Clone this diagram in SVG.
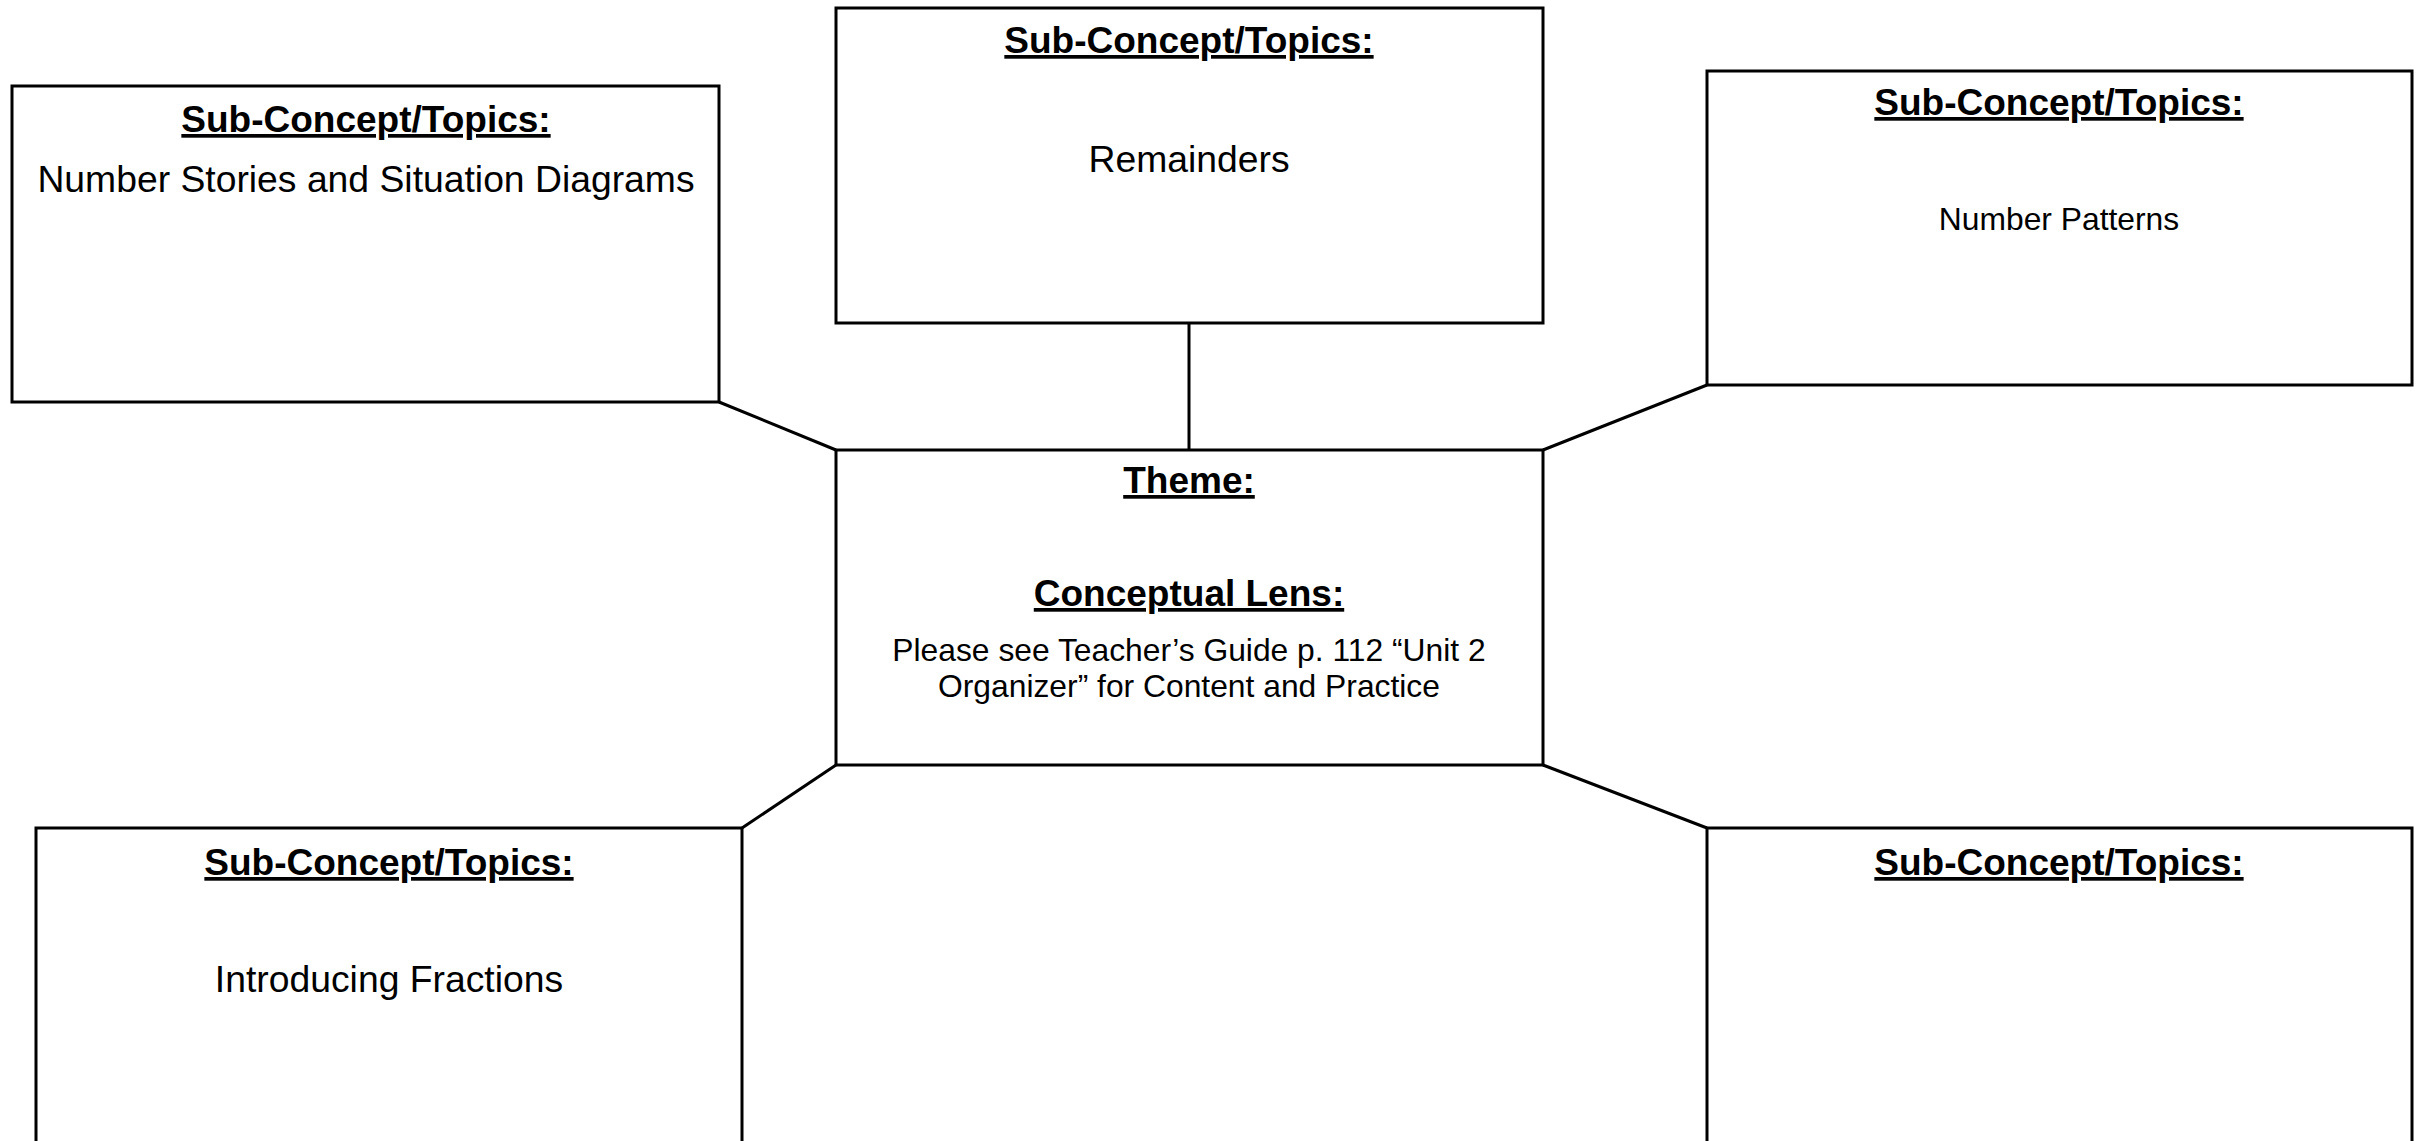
<svg xmlns="http://www.w3.org/2000/svg" width="2424" height="1141" viewBox="0 0 2424 1141">
<style>
.box{fill:#fff;stroke:#000;stroke-width:3}
.con{stroke:#000;stroke-width:3;fill:none}
.hd{font-family:"Liberation Sans",Arial,sans-serif;font-weight:bold;font-size:37px;text-anchor:middle;text-decoration:underline;fill:#000}
.tx{font-family:"Liberation Sans",Arial,sans-serif;font-size:37.3px;text-anchor:middle;fill:#000}
.sm{font-family:"Liberation Sans",Arial,sans-serif;font-size:31.8px;text-anchor:middle;fill:#000}
</style>
<rect width="2424" height="1141" fill="#fff"/>
<g id="connectors">
<line class="con" x1="719" y1="402" x2="836" y2="450"/>
<line class="con" x1="1189" y1="323" x2="1189" y2="450"/>
<line class="con" x1="1707" y1="385" x2="1543" y2="450"/>
<line class="con" x1="836" y1="765" x2="742" y2="828"/>
<line class="con" x1="1543" y1="765" x2="1707" y2="828"/>
</g>
<g id="node-top-left">
<rect class="box" x="12" y="86" width="707" height="316"/>
<text class="hd" x="366" y="132">Sub-Concept/Topics:</text>
<text class="tx" x="366" y="192">Number Stories and Situation Diagrams</text>
</g>
<g id="node-top-center">
<rect class="box" x="836" y="8" width="707" height="315"/>
<text class="hd" x="1189" y="53">Sub-Concept/Topics:</text>
<text class="tx" x="1189" y="172">Remainders</text>
</g>
<g id="node-top-right">
<rect class="box" x="1707" y="71" width="705" height="314"/>
<text class="hd" x="2059" y="115">Sub-Concept/Topics:</text>
<text class="sm" x="2059" y="230">Number Patterns</text>
</g>
<g id="node-center">
<rect class="box" x="836" y="450" width="707" height="315"/>
<text class="hd" x="1189" y="493">Theme:</text>
<text class="hd" x="1189" y="606">Conceptual Lens:</text>
<text class="sm" x="1189" y="661">Please see Teacher’s Guide p. 112 “Unit 2</text>
<text class="sm" x="1189" y="697">Organizer” for Content and Practice</text>
</g>
<g id="node-bottom-left">
<rect class="box" x="36" y="828" width="706" height="340"/>
<text class="hd" x="389" y="875">Sub-Concept/Topics:</text>
<text class="tx" x="389" y="992">Introducing Fractions</text>
</g>
<g id="node-bottom-right">
<rect class="box" x="1707" y="828" width="705" height="340"/>
<text class="hd" x="2059" y="875">Sub-Concept/Topics:</text>
</g>
</svg>
